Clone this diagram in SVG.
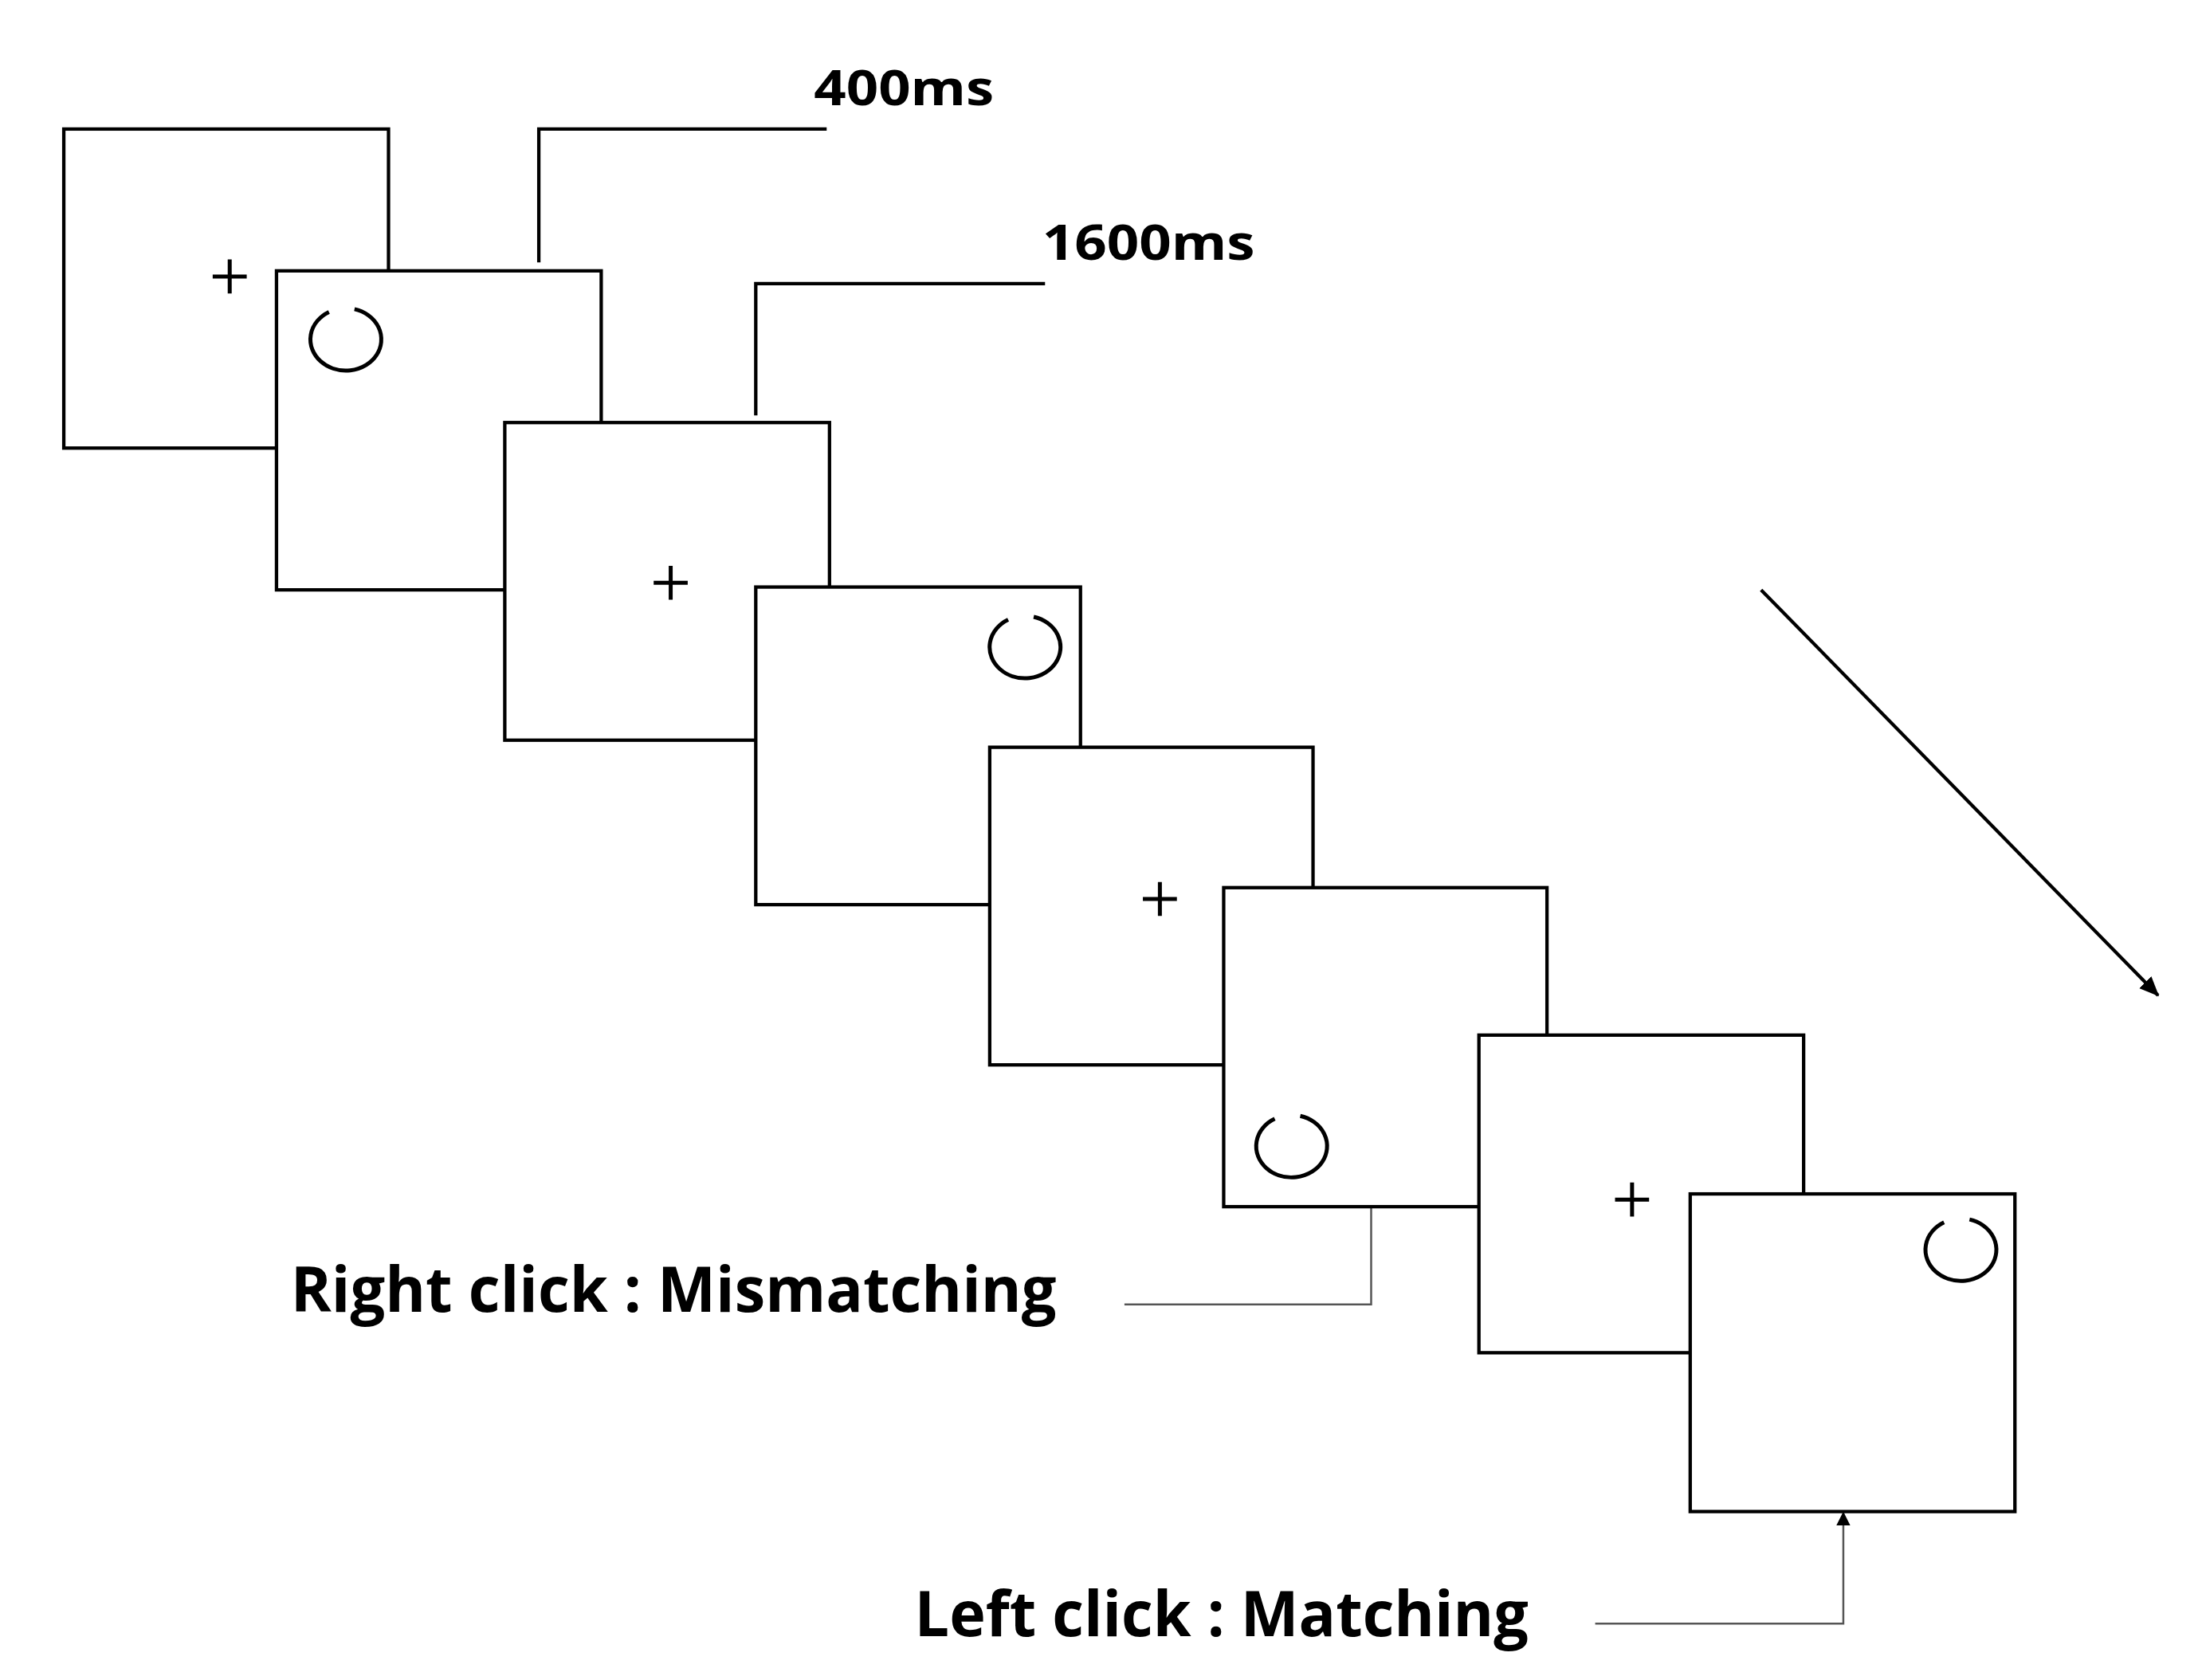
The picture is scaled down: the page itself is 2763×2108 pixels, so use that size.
<svg xmlns="http://www.w3.org/2000/svg" width="2763" height="2108" viewBox="0 0 2763 2108">
<style>
.b{fill:#fff;stroke:#000;stroke-width:2.4}
.s{fill:none;stroke:#000;stroke-width:2.4}
.c{fill:none;stroke:#000;stroke-width:2.8}
.g{fill:none;stroke:#555;stroke-width:1.4}
.t{font-family:"Open Sans","Liberation Sans",sans-serif;font-weight:bold;fill:#000}
</style>
<defs>
<marker id="ah" markerWidth="10" markerHeight="10" refX="9" refY="5" orient="auto" markerUnits="userSpaceOnUse" viewBox="0 0 10 10"><path d="M0,0 L10,5 L0,10 z" fill="#000"/></marker>
<marker id="ah2" markerWidth="14" markerHeight="14" refX="13" refY="7" orient="auto" markerUnits="userSpaceOnUse" viewBox="0 0 14 14"><path d="M0,1 L14,7 L0,13 z" fill="#000"/></marker>
</defs>
<rect width="2763" height="2108" fill="#fff"/>
<g transform="scale(1.7792)">
<g id="connectors">
<polyline class="s" points="380,185 380,91 583,91"/>
<polyline class="s" points="533,293 533,200 737,200"/>
<line class="s" x1="1242" y1="416" x2="1522" y2="702" marker-end="url(#ah2)"/>
<polyline class="g" points="793,920 967,920 967,843" marker-end="url(#ah)"/>
<polyline class="g" points="1125,1145 1300,1145 1300,1067" marker-end="url(#ah)"/>
</g>
<g id="n1"><rect class="b" x="45" y="91" width="229" height="225"/><path class="c" d="M162,183v24M150,195h24"/></g>
<g id="n2"><rect class="b" x="195" y="191" width="229" height="225"/><path class="c" d="M250,218 A25,22 0 1 1 232,220"/></g>
<g id="n3"><rect class="b" x="356" y="298" width="229" height="224"/><path class="c" d="M473,399v24M461,411h24"/></g>
<g id="n4"><rect class="b" x="533" y="414" width="229" height="224"/><path class="c" d="M729,435 A25,22 0 1 1 711,437"/></g>
<g id="n5"><rect class="b" x="698" y="527" width="228" height="224"/><path class="c" d="M818,622v24M806,634h24"/></g>
<g id="n6"><rect class="b" x="863" y="626" width="228" height="225"/><path class="c" d="M917,787 A25,22 0 1 1 899,789"/></g>
<g id="n7"><rect class="b" x="1043" y="730" width="229" height="224"/><path class="c" d="M1151,834v24M1139,846h24"/></g>
<g id="n8"><rect class="b" x="1192" y="842" width="229" height="224"/><path class="c" d="M1389,860 A25,22 0 1 1 1371,862"/></g>
<g id="labels">
<text class="t" x="574" y="74" font-size="34" textLength="127" lengthAdjust="spacingAndGlyphs">400ms</text>
<text class="t" x="735" y="183" font-size="34" textLength="150" lengthAdjust="spacingAndGlyphs">1600ms</text>
<text class="t" x="205" y="925" font-size="44" textLength="540" lengthAdjust="spacingAndGlyphs">Right click : Mismatching</text>
<text class="t" x="645" y="1154" font-size="44" textLength="433" lengthAdjust="spacingAndGlyphs">Left click : Matching</text>
</g>
</g>
</svg>
